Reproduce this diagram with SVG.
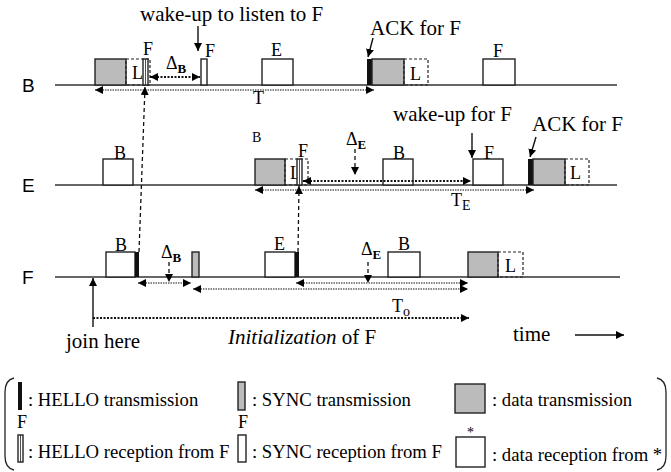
<svg xmlns="http://www.w3.org/2000/svg" width="671" height="472" viewBox="0 0 671 472">
<style>
.t{font-family:"Liberation Serif","Times New Roman",serif;font-size:21px;fill:#000}
.s{font-family:"Liberation Serif","Times New Roman",serif;font-size:18px;fill:#000}
.lg{font-family:"Liberation Serif","Times New Roman",serif;font-size:18.7px;fill:#000}
.row{font-family:"Liberation Sans",Arial,sans-serif;font-size:19px;fill:#000}
.axis{stroke:#333;stroke-width:1.6;fill:none}
.w{fill:#fff;stroke:#222;stroke-width:1.4}
.g{fill:#bbb;stroke:#222;stroke-width:1.4}
.dl{fill:none;stroke:#222;stroke-width:1.2;stroke-dasharray:3 2}
.blk{fill:#111;stroke:none}
.gd{stroke:#888;stroke-width:2;stroke-dasharray:1.5 1;fill:none}
.bd{stroke:#111;stroke-width:2;stroke-dasharray:2 1.5;fill:none}
.vd{stroke:#111;stroke-width:1.3;stroke-dasharray:4 3;fill:none}
.ar{stroke:#111;stroke-width:1.4;fill:none}
</style>
<defs>
<marker id="ah" viewBox="0 0 10 10" refX="10" refY="5" markerWidth="8" markerHeight="8" markerUnits="userSpaceOnUse" orient="auto-start-reverse"><path d="M0,0 L10,5 L0,10 z" fill="#000"/></marker>
</defs>

<!-- row labels -->
<g id="row-B"><text class="row" x="22" y="92">B</text><line class="axis" x1="55" y1="85" x2="617" y2="85"/></g>
<g id="row-E"><text class="row" x="22" y="192">E</text><line class="axis" x1="55" y1="185" x2="617" y2="185"/></g>
<g id="row-F"><text class="row" x="22" y="284">F</text><line class="axis" x1="55" y1="277" x2="620" y2="277"/></g>

<!-- B row nodes -->
<g id="B-data1"><rect class="g" x="95" y="59" width="31" height="26"/><rect class="dl" x="126" y="59" width="24" height="26"/><text class="s" x="132" y="79">L</text></g>
<g id="B-hello-rx"><rect class="w" x="143" y="59" width="5" height="26"/><line x1="145.5" y1="59" x2="145.5" y2="85" stroke="#222" stroke-width="0.8"/><text class="s" x="143" y="55">F</text></g>
<g id="B-sync-rx"><rect class="w" x="201" y="59" width="6" height="26"/><text class="s" x="205" y="57">F</text></g>
<g id="B-wake"><text class="t" x="140" y="21">wake-up to listen to F</text></g>
<g id="B-E"><rect class="w" x="262" y="59" width="31" height="26"/><text class="s" x="271" y="56">E</text></g>
<g id="B-ack"><rect class="blk" x="367" y="59" width="5" height="26"/><rect class="g" x="372" y="59" width="32" height="26"/><rect class="dl" x="404" y="59" width="24" height="26"/><text class="s" x="410" y="80">L</text><text class="t" x="370" y="35">ACK for F</text></g>
<g id="B-F"><rect class="w" x="483" y="59" width="32" height="26"/><text class="s" x="493" y="57">F</text></g>

<!-- E row nodes -->
<g id="E-B1"><rect class="w" x="103" y="159" width="30" height="26"/><text class="s" x="114" y="159">B</text></g>
<text class="s" x="252" y="142" style="font-size:14px">B</text>
<g id="E-data1"><rect class="g" x="255" y="159" width="30" height="26"/><rect class="dl" x="285" y="159" width="23" height="26"/><text class="s" x="290" y="179">L</text></g>
<g id="E-hello-rx"><rect class="w" x="297" y="159" width="5" height="26"/><line x1="299.5" y1="159" x2="299.5" y2="185" stroke="#222" stroke-width="0.8"/><text class="s" x="298" y="157">F</text></g>
<g id="E-B2"><rect class="w" x="383" y="159" width="30" height="26"/><text class="s" x="393" y="159">B</text></g>
<g id="E-F"><rect class="w" x="473" y="159" width="30" height="26"/><text class="s" x="484" y="159">F</text><text class="t" x="393" y="121">wake-up for F</text></g>
<g id="E-ack"><rect class="blk" x="528" y="159" width="5" height="26"/><rect class="g" x="533" y="159" width="32" height="26"/><rect class="dl" x="565" y="159" width="24" height="26"/><text class="s" x="570" y="179">L</text><text class="t" x="532" y="131">ACK for F</text></g>

<!-- F row nodes -->
<g id="F-B1"><rect class="w" x="106" y="252" width="29" height="25"/><rect class="blk" x="135" y="252" width="4" height="25"/><text class="s" x="115" y="251">B</text></g>
<g id="F-sync"><rect class="g" x="192" y="252" width="7" height="25"/></g>
<g id="F-E"><rect class="w" x="265" y="252" width="30" height="25"/><rect class="blk" x="295" y="252" width="4" height="25"/><text class="s" x="274" y="250">E</text></g>
<g id="F-B2"><rect class="w" x="388" y="252" width="32" height="25"/><text class="s" x="398" y="250">B</text></g>
<g id="F-data"><rect class="g" x="468" y="252" width="30" height="25"/><rect class="dl" x="498" y="252" width="25" height="25"/><text class="s" x="505" y="272">L</text></g>

<!-- connectors -->
<g id="connectors">
<line class="ar" x1="198" y1="26" x2="198" y2="51" marker-end="url(#ah)"/>
<line class="ar" x1="373" y1="38" x2="368" y2="57" marker-end="url(#ah)"/>
<line class="bd" x1="150" y1="77" x2="200" y2="77" marker-start="url(#ah)" marker-end="url(#ah)"/>
<line class="gd" x1="95" y1="90" x2="374" y2="90" marker-start="url(#ah)" marker-end="url(#ah)"/>
<line class="vd" x1="139" y1="252" x2="145" y2="87" marker-end="url(#ah)"/>

<line class="ar" x1="472" y1="133" x2="472" y2="158" marker-end="url(#ah)"/>
<line class="ar" x1="536" y1="137" x2="530" y2="157" marker-end="url(#ah)"/>
<line class="vd" x1="355" y1="149" x2="355" y2="175" marker-end="url(#ah)"/>
<line class="bd" x1="303" y1="181" x2="471" y2="181" marker-start="url(#ah)" marker-end="url(#ah)"/>
<line class="gd" x1="255" y1="190" x2="534" y2="190" marker-start="url(#ah)" marker-end="url(#ah)"/>
<line class="vd" x1="298" y1="252" x2="299" y2="186" marker-end="url(#ah)"/>

<line class="vd" x1="169" y1="262" x2="169" y2="282" marker-end="url(#ah)"/>
<line class="gd" x1="138" y1="283" x2="191" y2="283" marker-start="url(#ah)" marker-end="url(#ah)"/>
<line class="vd" x1="368" y1="262" x2="368" y2="283" marker-end="url(#ah)"/>
<line class="gd" x1="296" y1="283" x2="468" y2="283" marker-start="url(#ah)" marker-end="url(#ah)"/>
<line class="gd" x1="193" y1="289" x2="468" y2="289" marker-start="url(#ah)" marker-end="url(#ah)"/>
<line class="bd" x1="93" y1="318" x2="469" y2="318" marker-end="url(#ah)"/>
<line class="ar" x1="93" y1="327" x2="93" y2="278" marker-end="url(#ah)"/>
<line class="ar" x1="575" y1="335" x2="624" y2="335" marker-end="url(#ah)"/>
</g>

<!-- labels -->
<text class="s" x="166" y="69">Δ<tspan dy="4" style="font-size:13px;font-weight:bold">B</tspan></text>
<text class="s" x="253" y="104">T</text>
<text class="s" x="346" y="145">Δ<tspan dy="4" style="font-size:13px;font-weight:bold">E</tspan></text>
<text class="s" x="451" y="206">T<tspan dy="4" style="font-size:14px">E</tspan></text>
<text class="s" x="161" y="258">Δ<tspan dy="4" style="font-size:13px;font-weight:bold">B</tspan></text>
<text class="s" x="361" y="255">Δ<tspan dy="4" style="font-size:13px;font-weight:bold">E</tspan></text>
<text class="s" x="392" y="312">T<tspan dy="4" style="font-size:14px">o</tspan></text>
<text class="t" x="66" y="348">join here</text>
<text class="t" x="228" y="344"><tspan font-style="italic">Initialization</tspan> of F</text>
<text class="t" x="513" y="341">time</text>

<!-- legend -->
<g id="legend">
<path d="M14,378 Q5,380 5,392 L5,456 Q5,468 14,470" fill="none" stroke="#222" stroke-width="1.3"/>
<path d="M657,378 Q666,380 666,392 L666,456 Q666,468 657,470" fill="none" stroke="#222" stroke-width="1.3"/>
<rect class="blk" x="18" y="382" width="4" height="28"/>
<text class="lg" x="28" y="406">: HELLO transmission</text>
<rect class="g" x="238" y="382" width="7" height="28"/>
<text class="lg" x="252" y="406">: SYNC transmission</text>
<rect class="g" x="455" y="384" width="30" height="29"/>
<text class="lg" x="492" y="406">: data transmission</text>
<text class="s" x="17" y="428">F</text>
<rect class="w" x="18" y="435" width="5" height="27"/><line x1="20.5" y1="435" x2="20.5" y2="462" stroke="#222" stroke-width="0.8"/>
<text class="lg" x="28" y="458">: HELLO reception from F</text>
<text class="s" x="238" y="428">F</text>
<rect class="w" x="238" y="435" width="8" height="27"/>
<text class="lg" x="252" y="458">: SYNC reception from F</text>
<text class="s" x="467" y="437" style="font-size:14px">*</text>
<rect class="w" x="456" y="437" width="29" height="30"/>
<text class="lg" x="492" y="461">: data reception from *</text>
</g>
</svg>
